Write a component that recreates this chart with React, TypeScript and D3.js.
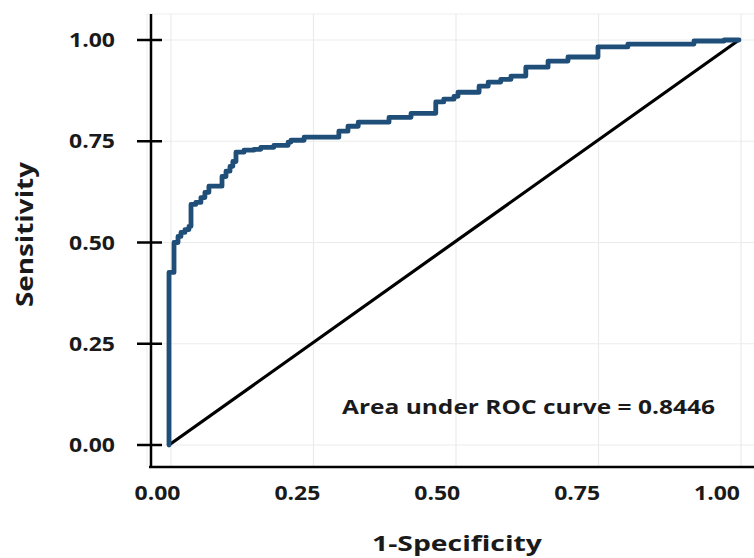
import React from "react";
import * as d3 from "d3";

const W = 754;
const H = 558;

// ROC curve corner points (1-specificity, sensitivity)
const fpr = [0, 0, 0.0088, 0.0158, 0.021, 0.028, 0.035, 0.0386, 0.047, 0.056, 0.063, 0.07, 0.093, 0.1, 0.107, 0.112, 0.1175, 0.1316, 0.149, 0.161, 0.184, 0.209, 0.214, 0.237, 0.298, 0.314, 0.332, 0.386, 0.4246, 0.468, 0.482, 0.5, 0.507, 0.544, 0.56, 0.582, 0.6, 0.626, 0.665, 0.7, 0.7526, 0.805, 0.921, 0.974, 1.0];
const tpr = [0, 0.426, 0.5, 0.515, 0.525, 0.532, 0.54, 0.594, 0.599, 0.611, 0.624, 0.639, 0.663, 0.676, 0.688, 0.7, 0.723, 0.728, 0.73, 0.735, 0.74, 0.748, 0.7525, 0.76, 0.775, 0.787, 0.797, 0.809, 0.819, 0.847, 0.854, 0.861, 0.871, 0.886, 0.896, 0.903, 0.911, 0.933, 0.948, 0.958, 0.983, 0.99, 0.9975, 1.0, 1.0];

const ticks = [0, 0.25, 0.5, 0.75, 1];
const tickLabels = ["0.00", "0.25", "0.50", "0.75", "1.00"];
const aucText = "Area under ROC curve = 0.8446";
const xTitle = "1-Specificity";
const yTitle = "Sensitivity";

const FONT = "'Open Sans', 'DejaVu Sans', sans-serif";

export default function App() {
  const x = d3.scaleLinear().domain([0, 1]).range([169, 739]);
  const y = d3.scaleLinear().domain([0, 1]).range([445, 40]);
  const xLab = d3.scaleLinear().domain([0, 1]).range([157.5, 717]);

  const pts: [number, number][] = fpr.map((f, i) => [f, tpr[i]]);
  const line = d3
    .line<[number, number]>()
    .x((d) => x(d[0]))
    .y((d) => y(d[1]))
    .curve(d3.curveStepAfter);

  const diag = d3
    .line<[number, number]>()
    .x((d) => x(d[0]))
    .y((d) => y(d[1]));

  return (
    <svg
      width={W}
      height={H}
      style={{ position: "absolute", left: 0, top: 0, background: "#fff" }}
    >
      {/* faint plot frame */}
      <line x1={147} x2={W} y1={14} y2={14} stroke="#eeeeee" strokeWidth={1} />
      <line x1={147} x2={147} y1={14} y2={467} stroke="#eeeeee" strokeWidth={1} />
      {/* gridlines */}
      {ticks.map((t) => (
        <line key={"gy" + t} x1={152} x2={W} y1={y(t)} y2={y(t)} stroke="#ebebeb" strokeWidth={1.2} />
      ))}
      {ticks.map((t) => (
        <line key={"gx" + t} x1={x(t) + 2} x2={x(t) + 2} y1={14} y2={466} stroke="#ebebeb" strokeWidth={1.2} />
      ))}

      {/* diagonal */}
      <path d={diag([[0, 0], [1, 1]]) || ""} stroke="#000" strokeWidth={3.2} fill="none" />

      {/* ROC curve */}
      <path
        d={line(pts) || ""}
        stroke="#1f4e79"
        strokeWidth={4.8}
        fill="none"
        strokeLinejoin="round"
        strokeLinecap="round"
      />

      {/* axes */}
      <line x1={151} x2={151} y1={14} y2={468} stroke="#000" strokeWidth={2.5} />
      <line x1={149} x2={W} y1={467} y2={467} stroke="#000" strokeWidth={2.5} />
      {ticks.map((t) => (
        <line key={"ty" + t} x1={137} x2={162} y1={y(t)} y2={y(t)} stroke="#000" strokeWidth={2.5} />
      ))}

      {/* y tick labels */}
      {ticks.map((t, i) => (
        <text
          key={"ly" + t}
          x={115}
          y={y(t) + 7}
          textAnchor="end"
          fontFamily={FONT}
          fontWeight={700}
          fontSize={19}
          fill="#1a1a1a"
          textLength={46}
          lengthAdjust="spacingAndGlyphs"
        >
          {tickLabels[i]}
        </text>
      ))}
      {/* x tick labels */}
      {ticks.map((t, i) => (
        <text
          key={"lx" + t}
          x={xLab(t) - 23}
          y={500}
          fontFamily={FONT}
          fontWeight={700}
          fontSize={19}
          fill="#1a1a1a"
          textLength={46}
          lengthAdjust="spacingAndGlyphs"
        >
          {tickLabels[i]}
        </text>
      ))}

      {/* AUC annotation */}
      <text
        x={342}
        y={414}
        fontFamily={FONT}
        fontWeight={700}
        fontSize={20}
        fill="#1a1a1a"
        textLength={373}
        lengthAdjust="spacingAndGlyphs"
      >
        {aucText}
      </text>

      {/* axis titles */}
      <text
        x={372}
        y={551}
        fontFamily={FONT}
        fontWeight={700}
        fontSize={22}
        fill="#1a1a1a"
        textLength={170}
        lengthAdjust="spacingAndGlyphs"
      >
        {xTitle}
      </text>
      <text
        transform="translate(33,307) rotate(-90)"
        x={0}
        y={0}
        fontFamily={FONT}
        fontWeight={700}
        fontSize={24}
        fill="#1a1a1a"
        textLength={145}
        lengthAdjust="spacingAndGlyphs"
      >
        {yTitle}
      </text>
    </svg>
  );
}
